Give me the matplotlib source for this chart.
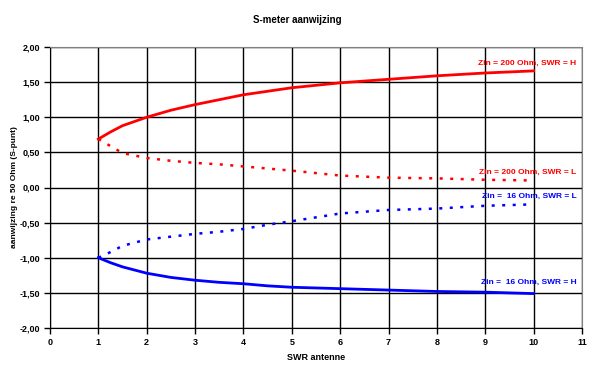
import matplotlib
matplotlib.use("Agg")
import matplotlib.pyplot as plt
from matplotlib.ticker import FuncFormatter, MultipleLocator

# SWR antenne
swr = [1, 1.25, 1.5, 2, 2.5, 3, 3.5, 4, 4.5, 5, 6, 7, 8, 9, 10]

# aanwijzing re 50 Ohm (S-punt)
z200_h = [0.69, 0.79, 0.88, 1.00, 1.10, 1.18, 1.25, 1.32, 1.37, 1.42, 1.49, 1.54, 1.59, 1.63, 1.66]
z200_l = [0.69, 0.59, 0.49, 0.42, 0.38, 0.35, 0.33, 0.30, 0.27, 0.24, 0.17, 0.14, 0.13, 0.11, 0.10]
z16_l = [-1.00, -0.92, -0.83, -0.74, -0.70, -0.66, -0.63, -0.59, -0.53, -0.48, -0.37, -0.32, -0.30, -0.26, -0.24]
z16_h = [-1.00, -1.07, -1.13, -1.22, -1.28, -1.32, -1.35, -1.37, -1.40, -1.42, -1.44, -1.46, -1.48, -1.49, -1.51]

labels = ["Zin = 200 Ohm, SWR = H", "Zin = 200 Ohm, SWR = L",
          "Zin =  16 Ohm, SWR = L", "Zin =  16 Ohm, SWR = H"]

plt.rcParams['font.family'] = ['Liberation Sans', 'DejaVu Sans']
plt.rcParams['font.weight'] = 'bold'
plt.rcParams['axes.labelweight'] = 'bold'
plt.rcParams['font.size'] = 6.5

RED = "#ff0000"
BLUE = "#0000ff"

fig = plt.figure(figsize=(5.98, 3.71), dpi=100)
ax = fig.add_axes([50/598, 1-328/371, 532/598, 281/371])

ax.plot(swr, z200_h, color=RED, lw=2)
ax.plot(swr, z200_l, color=RED, lw=1.8, ls=(0, (1.2, 3)))
ax.plot(swr, z16_l, color=BLUE, lw=1.8, ls=(0, (1.2, 3)))
ax.plot(swr, z16_h, color=BLUE, lw=2)

ax.set_xlim(0, 11)
ax.set_ylim(-2, 2)
ax.xaxis.set_major_locator(MultipleLocator(1))
ax.yaxis.set_major_locator(MultipleLocator(0.5))
ax.yaxis.set_major_formatter(FuncFormatter(lambda v, p: f"{v:.2f}".replace('.', ',')))
ax.grid(True, color="black", lw=1)
ax.set_axisbelow(True)
ax.tick_params(direction="out", length=4, width=1, color="black", pad=3)

for s in ["top", "right"]:
    ax.spines[s].set_color("#808080")
for s in ["left", "bottom"]:
    ax.spines[s].set_color("black")

# labels at the end of each curve
xr = 10.88
ax.text(xr, z200_h[-1] + 0.11, labels[0], color=RED, ha="right", va="center", fontsize=6)
ax.text(xr, 0.21, labels[1], color=RED, ha="right", va="center", fontsize=6)
ax.text(xr, -0.12, labels[2], color=BLUE, ha="right", va="center", fontsize=6)
ax.text(xr, -1.35, labels[3], color=BLUE, ha="right", va="center", fontsize=6)

fig.text(297/598, 1-20/371, "S-meter aanwijzing", ha="center", va="center", fontsize=7)
ax.set_xlabel("SWR antenne")
ax.xaxis.set_label_coords(0.5, -(353-328)/281)
ax.set_ylabel("aanwijzing re 50 Ohm (S-punt)", fontsize=6)
ax.yaxis.set_label_coords(-(50-18)/532, 0.5)

fig.savefig("out.png", dpi=100)
